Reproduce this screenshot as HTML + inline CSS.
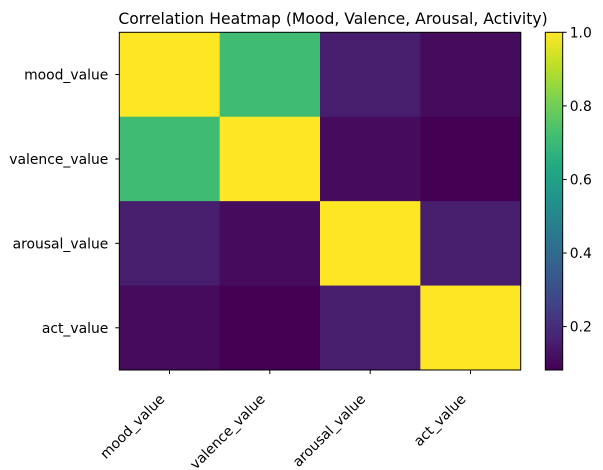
<!DOCTYPE html>
<html><head><meta charset="utf-8"><style>
html,body{margin:0;padding:0;background:#fff;}
svg{display:block;font-family:"DejaVu Sans","Liberation Sans",sans-serif;}
</style></head><body>
<svg id="chart" width="603" height="470">
<defs><linearGradient id="cbgrad" x1="0" y1="1" x2="0" y2="0"></linearGradient></defs>
<text x="333" y="24" font-size="15.6" text-anchor="middle">Correlation Heatmap (Mood, Valence, Arousal, Activity)</text>
<g id="cells"></g><g id="axes"></g><g id="cbar"></g>
</svg>
<script>
const categories = ["mood_value","valence_value","arousal_value","act_value"];
const row0 = [1.0, 0.71, 0.155, 0.11];
const row1 = [0.71, 1.0, 0.11, 0.082];
const row2 = [0.155, 0.11, 1.0, 0.155];
const row3 = [0.11, 0.082, 0.155, 1.0];
const matrix = [row0, row1, row2, row3];
const colorbarTicks = [0.2, 0.4, 0.6, 0.8, 1.0];
const colorbarTickLabels = ["0.2","0.4","0.6","0.8","1.0"];

const NS="http://www.w3.org/2000/svg";
const X0=119.3, X1=520.7, Y0=32.3, Y1=370;
const vmin=Math.min(...matrix.flat()), vmax=Math.max(...matrix.flat());
const n=categories.length;
const cw=(X1-X0)/n, ch=(Y1-Y0)/n;
const xPos=i=>X0+i*cw, yPos=i=>Y0+i*ch;
const vir=[[68,1,84],[72,36,117],[65,68,135],[53,95,141],[42,120,142],[33,145,140],[34,168,132],[68,191,112],[122,209,81],[189,223,38],[253,231,37]];
function viridis(t){t=Math.max(0,Math.min(1,t));const s=t*(vir.length-1),i=Math.min(Math.floor(s),vir.length-2),f=s-i;
const c=vir[i].map((a,k)=>Math.round(a+(vir[i+1][k]-a)*f));return `rgb(${c[0]},${c[1]},${c[2]})`;}
function mk(tag,attrs,parent){const e=document.createElementNS(NS,tag);for(const k in attrs)e.setAttribute(k,attrs[k]);parent.appendChild(e);return e;}
const cells=document.getElementById('cells'), axes=document.getElementById('axes'), cb=document.getElementById('cbar');
matrix.forEach((row,r)=>row.forEach((v,c)=>{
  const el=mk('rect',{x:xPos(c),y:yPos(r),width:cw+0.5,height:ch+0.5,fill:viridis((v-vmin)/(vmax-vmin))},cells);
  
  
}));
const frame=mk('rect',{x:X0,y:Y0,width:X1-X0,height:Y1-Y0,fill:'none',stroke:'#000','stroke-width':1},axes);


categories.forEach((c,i)=>{
  const yc=yPos(i)+ch/2, xc=xPos(i)+cw/2;
  mk('line',{x1:X0-4,x2:X0,y1:yc,y2:yc,stroke:'#000'},axes);
  const ty=mk('text',{x:X0-11,y:yc+5,'font-size':13.9,'text-anchor':'end'},axes);
  ty.textContent=c;
  
  
  mk('line',{x1:xc,x2:xc,y1:Y1,y2:Y1+4,stroke:'#000'},axes);
  const ax=xc-4, ay=Y1+30;
  const tx=mk('text',{x:ax,y:ay,'font-size':13.9,'text-anchor':'end',transform:`rotate(-45 ${ax} ${ay})`},axes);
  tx.textContent=c;
  
  
});
const CX0=545.3, CX1=562.7;
const cbY=v=>Y1-(v-vmin)/(vmax-vmin)*(Y1-Y0);
const grad=document.getElementById('cbgrad');
for(let i=0;i<=20;i++){mk('stop',{offset:(i/20),'stop-color':viridis(i/20)},grad);}
const bar=mk('rect',{x:CX0,y:Y0,width:CX1-CX0,height:Y1-Y0,fill:'url(#cbgrad)',stroke:'#000','stroke-width':1},cb);


colorbarTicks.forEach((t,i)=>{
  const y=cbY(t);
  mk('line',{x1:CX1,x2:CX1+4,y1:y,y2:y,stroke:'#000'},cb);
  const tl=mk('text',{x:CX1+7,y:y+5,'font-size':13.9},cb);
  tl.textContent=colorbarTickLabels[i];
  
  
});
</script>
</body></html>
